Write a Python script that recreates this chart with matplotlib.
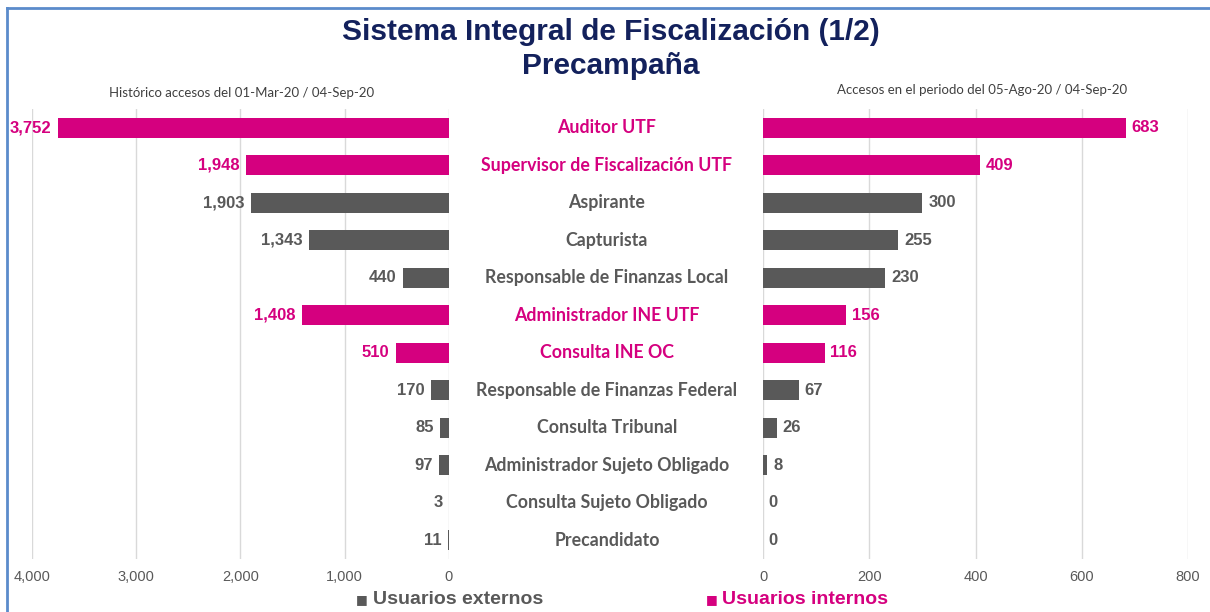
import matplotlib
matplotlib.use('Agg')
import matplotlib.pyplot as plt
from matplotlib.lines import Line2D
from matplotlib.transforms import blended_transform_factory

categorias = ['Auditor UTF', 'Supervisor de Fiscalización UTF', 'Aspirante', 'Capturista',
              'Responsable de Finanzas Local', 'Administrador INE UTF', 'Consulta INE OC',
              'Responsable de Finanzas Federal', 'Consulta Tribunal',
              'Administrador Sujeto Obligado', 'Consulta Sujeto Obligado', 'Precandidato']
historico = [3752, 1948, 1903, 1343, 440, 1408, 510, 170, 85, 97, 3, 11]
periodo = [683, 409, 300, 255, 230, 156, 116, 67, 26, 8, 0, 0]
internos = [True, True, False, False, False, True, True, False, False, False, False, False]

ticks_izq = [0, 1000, 2000, 3000, 4000]
ticks_der = [0, 200, 400, 600, 800]

MAGENTA = '#D5007F'
GRIS = '#595959'
NAVY = '#13215C'
GRID = '#D9D9D9'

colores = [MAGENTA if i else GRIS for i in internos]
y = list(range(len(categorias)))

fig = plt.figure(figsize=(12.1, 6.12), dpi=100)
W, H = 1210, 612

ax1 = fig.add_axes([32 / W, 53 / H, 417 / W, 450 / H])
ax2 = fig.add_axes([763 / W, 53 / H, 425 / W, 450 / H])

num_font = ['Liberation Sans', 'DejaVu Sans']
cat_font = ['Lato', 'Open Sans', 'DejaVu Sans']

ax1.barh(y, historico, height=0.53, color=colores)
ax2.barh(y, periodo, height=0.53, color=colores)

for ax, lim, ticks in [(ax1, 4000, ticks_izq), (ax2, 800, ticks_der)]:
    ax.set_ylim(len(categorias) - 0.5, -0.5)
    ax.set_xlim(0, lim)
    ax.set_xticks(ticks)
    ax.set_xticklabels([f'{t:,}' for t in ticks])
    ax.set_yticks([])
    for s in ax.spines.values():
        s.set_visible(False)
    ax.grid(axis='x', color=GRID, lw=1)
    ax.set_axisbelow(True)
    ax.tick_params(axis='x', length=0, pad=8, labelsize=10.5, labelcolor=GRIS)
    for lab in ax.get_xticklabels():
        lab.set_family(num_font)

ax1.invert_xaxis()

for i, (v, c) in enumerate(zip(historico, colores)):
    ax1.text(v + 60, i, f'{v:,}', ha='right', va='center', fontsize=12,
             fontweight='bold', color=c, family=num_font)
for i, (v, c) in enumerate(zip(periodo, colores)):
    ax2.text(v + 11, i, f'{v:,}', ha='left', va='center', fontsize=12,
             fontweight='bold', color=c, family=num_font)

tr = blended_transform_factory(fig.transFigure, ax1.transData)
for i, (cat, c) in enumerate(zip(categorias, colores)):
    ax1.text(607 / W, i, cat, transform=tr, ha='center', va='center', fontsize=12.8,
             fontweight='bold', color=c, family=cat_font, clip_on=False)

fig.text(0.505, 1 - 32 / H, 'Sistema Integral de Fiscalización (1/2)', ha='center', va='center',
         fontsize=21.5, fontweight='bold', color=NAVY, family=num_font)
fig.text(0.505, 1 - 66 / H, 'Precampaña', ha='center', va='center',
         fontsize=21.5, fontweight='bold', color=NAVY, family=num_font)

fig.text(242 / W, 1 - 93 / H, 'Histórico accesos del 01-Mar-20 / 04-Sep-20', ha='center',
         va='center', fontsize=9.5, color='#404040', family=cat_font)
fig.text(982 / W, 1 - 90 / H, 'Accesos en el periodo del 05-Ago-20 / 04-Sep-20', ha='center',
         va='center', fontsize=9.5, color='#404040', family=cat_font)

# leyenda
fig.text(362 / W, 1 - 600 / H, '■', ha='center', va='center', fontsize=9, color=GRIS,
         family='DejaVu Sans')
fig.text(373 / W, 1 - 600 / H, 'Usuarios externos', ha='left', va='center', fontsize=14,
         fontweight='bold', color=GRIS, family=num_font)
fig.text(712 / W, 1 - 600 / H, '■', ha='center', va='center', fontsize=9, color=MAGENTA,
         family='DejaVu Sans')
fig.text(722 / W, 1 - 600 / H, 'Usuarios internos', ha='left', va='center', fontsize=14,
         fontweight='bold', color=MAGENTA, family=num_font)

# marco
fig.add_artist(Line2D([7 / W, 7 / W], [0, 1 - 8 / H], transform=fig.transFigure,
                      color='#5B8BCB', lw=2))
fig.add_artist(Line2D([7 / W, 1], [1 - 8 / H, 1 - 8 / H], transform=fig.transFigure,
                      color='#5B8BCB', lw=2))

fig.savefig('out.png', dpi=100)
